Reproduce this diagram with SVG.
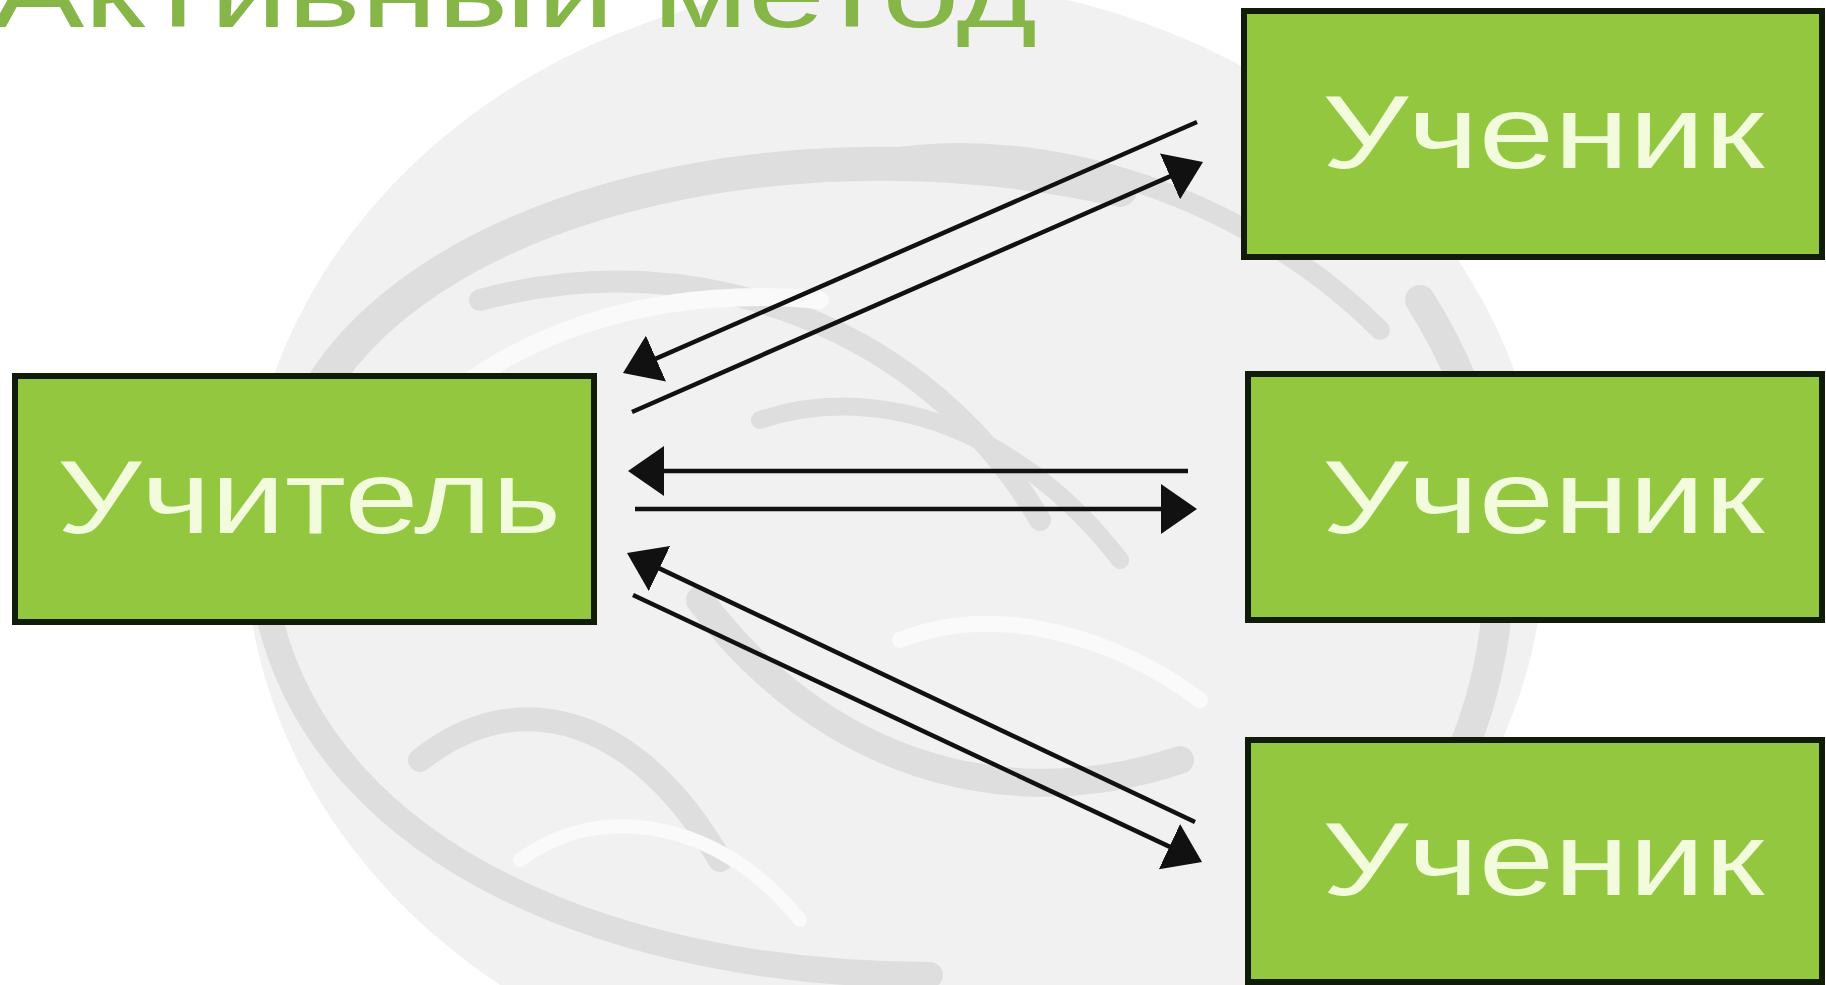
<svg xmlns="http://www.w3.org/2000/svg" width="1826" height="985" viewBox="0 0 1826 985">
  <style>
    .box { fill: #93c73f; stroke: #101c08; stroke-width: 6; }
    .lbl { font-family: "Liberation Sans", "DejaVu Sans", Arial, sans-serif; font-size: 104px; fill: #f2fbdc; }
    .title { font-family: "Liberation Sans", "DejaVu Sans", Arial, sans-serif; font-size: 100px; fill: #86b648; }
    .conn { stroke: #111111; stroke-width: 4.5; fill: none; marker-end: url(#arr); }
    .sw { fill: none; stroke: #dedede; stroke-linecap: round; }
    .sw2 { fill: none; stroke: #fafafa; stroke-linecap: round; }
  </style>
  <defs>
    <marker id="arr" markerUnits="userSpaceOnUse" viewBox="0 0 36 50" markerWidth="36" markerHeight="50" refX="30" refY="25" orient="auto">
      <path d="M0,0 L36,25 L0,50 Z" fill="#111111"/>
    </marker>
  </defs>
  <rect x="0" y="0" width="1826" height="985" fill="#ffffff"/>
  <g id="background">
    <ellipse cx="895" cy="540" rx="650" ry="560" fill="#f1f1f1"/>
    <path class="sw" stroke-width="34" d="M300,430 C380,220 760,110 1120,190"/>
    <path class="sw" stroke-width="26" d="M270,620 C330,860 620,975 930,975"/>
    <path class="sw" stroke-width="30" d="M1420,300 C1560,520 1510,800 1300,960"/>
    <path class="sw" stroke-width="22" d="M480,300 C700,240 930,330 1040,520"/>
    <path class="sw" stroke-width="28" d="M700,600 C820,760 1000,820 1180,760"/>
    <path class="sw" stroke-width="20" d="M880,160 C1050,130 1250,200 1380,330"/>
    <path class="sw" stroke-width="24" d="M420,760 C520,680 640,720 720,860"/>
    <path class="sw" stroke-width="18" d="M760,420 C880,380 1020,430 1120,560"/>
    <path class="sw2" stroke-width="18" d="M360,520 C420,360 620,280 820,300"/>
    <path class="sw2" stroke-width="16" d="M900,640 C1000,600 1120,640 1200,700"/>
    <path class="sw2" stroke-width="14" d="M520,860 C600,800 720,820 800,920"/>
  </g>
  <g id="title">
    <text class="title" x="-8" y="27" textLength="1045" lengthAdjust="spacingAndGlyphs">Активный метод</text>
  </g>
  <g id="connectors">
    <line class="conn" x1="1197" y1="122" x2="628.5" y2="370.6"/>
    <line class="conn" x1="632" y1="412" x2="1197.5" y2="164.4"/>
    <line class="conn" x1="1188" y1="471" x2="634" y2="471"/>
    <line class="conn" x1="635" y1="509" x2="1191" y2="509"/>
    <line class="conn" x1="1195" y1="822" x2="632.4" y2="555.6"/>
    <line class="conn" x1="633" y1="595" x2="1196.6" y2="859.4"/>
  </g>
  <g id="teacher">
    <rect class="box" x="15" y="376" width="579" height="246"/>
    <text class="lbl" x="57" y="533" textLength="504" lengthAdjust="spacingAndGlyphs">Учитель</text>
  </g>
  <g id="student1">
    <rect class="box" x="1244" y="11" width="578" height="246"/>
    <text class="lbl" x="1322" y="168" textLength="442" lengthAdjust="spacingAndGlyphs">Ученик</text>
  </g>
  <g id="student2">
    <rect class="box" x="1248" y="374" width="574" height="246"/>
    <text class="lbl" x="1322" y="533" textLength="442" lengthAdjust="spacingAndGlyphs">Ученик</text>
  </g>
  <g id="student3">
    <rect class="box" x="1248" y="740" width="574" height="242"/>
    <text class="lbl" x="1322" y="895" textLength="442" lengthAdjust="spacingAndGlyphs">Ученик</text>
  </g>
</svg>
